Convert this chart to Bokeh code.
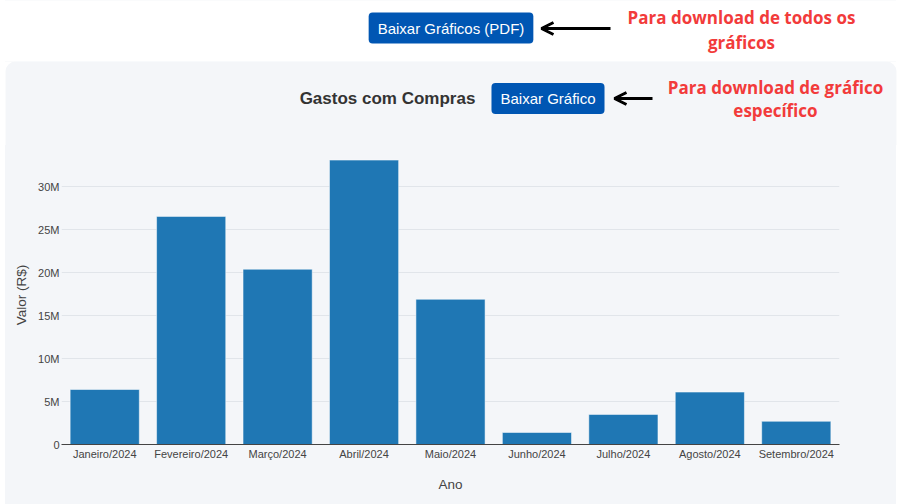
from bokeh.plotting import figure
from bokeh.layouts import column
from bokeh.models import (FactorRange, Range1d, FixedTicker, Label, Arrow,
                          OpenHead, BoxAnnotation, ColumnDataSource)
from bokeh.embed import file_html
from bokeh.resources import INLINE

# ---------------- data ----------------
meses = ["Janeiro/2024", "Fevereiro/2024", "Março/2024", "Abril/2024",
         "Maio/2024", "Junho/2024", "Julho/2024", "Agosto/2024", "Setembro/2024"]
gastos = [6.4e6, 26.55e6, 20.4e6, 33.1e6, 16.9e6, 1.4e6, 3.5e6, 6.1e6, 2.7e6]
y_ticks = [0, 5e6, 10e6, 15e6, 20e6, 25e6, 30e6]
y_tick_labels = ["0", "5M", "10M", "15M", "20M", "25M", "30M"]

titulo = "Gastos com Compras"
eixo_x = "Ano"
eixo_y = "Valor (R$)"
botao_pdf = "Baixar Gráficos (PDF)"
botao_graf = "Baixar Gráfico"
nota_todos = ["Para download de todos os", "gráficos"]
nota_graf = ["Para download de gráfico", "específico"]

# ---------------- styling ----------------
PANEL = "#f4f6f9"
BAR = "#1f77b4"
BTN = "#0056b3"
RED = "#f23b3b"
AXIS_TXT = "#444444"
FONT = "Liberation Sans"
W = 904


def blank(y0, y1, bg):
    f = figure(width=W, height=y1 - y0, x_range=Range1d(0, W),
               y_range=Range1d(y1, y0), output_backend="svg",
               toolbar_location=None, tools="", x_axis_location=None,
               y_axis_location=None, min_border=0, frame_align=False)
    f.border_fill_color = bg
    f.background_fill_color = bg
    f.outline_line_color = None
    f.xgrid.visible = False
    f.ygrid.visible = False
    return f


def button(f, txt, cx, cy):
    f.add_layout(Label(x=cx, y=cy, text=txt, text_align="center",
                       text_baseline="middle", text_font=FONT,
                       text_font_size="15px", text_color="white",
                       background_fill_color=BTN, background_fill_alpha=1.0,
                       padding=(9, 7), border_radius=4))


def arrow(f, x0, x1, y):
    f.add_layout(Arrow(x_start=x0, y_start=y, x_end=x1, y_end=y,
                       line_color="black", line_width=3,
                       end=OpenHead(size=12, line_width=3, line_color="black")))


def note(f, lines, cx, ys):
    for txt, yy in zip(lines, ys):
        f.add_layout(Label(x=cx, y=yy, text=txt, text_align="center",
                           text_baseline="middle", text_font="Open Sans",
                           text_font_style="bold", text_font_size="17px",
                           text_color=RED))


# ---- top strip (white) ----
top = blank(0, 61, "white")
button(top, botao_pdf, 450.5, 27.5)
arrow(top, 610, 541, 28)
note(top, nota_todos, 741, (17, 42))

# ---- card header ----
head = blank(61, 145, "white")
head.add_layout(BoxAnnotation(left=5, right=896, top=61, bottom=260,
                              fill_color=PANEL, fill_alpha=1.0, line_color=None,
                              border_radius=10, level="underlay"))
head.add_layout(Label(x=387, y=98, text=titulo, text_align="center",
                      text_baseline="middle", text_font=FONT,
                      text_font_style="bold", text_font_size="17px",
                      text_color="#333333"))
button(head, botao_graf, 547.5, 98)
arrow(head, 652, 614, 98)
note(head, nota_graf, 775, (87, 110))

# ---- chart ----
src = ColumnDataSource(dict(mes=meses, valor=gastos))

p = figure(width=891, height=359, x_range=FactorRange(*meses, range_padding=0),
           y_range=Range1d(0, 34.8e6), output_backend="svg", toolbar_location=None,
           tools="", min_border_left=56, min_border_right=57, min_border_top=0,
           min_border_bottom=60, margin=(0, 8, 0, 5), frame_align=False)
p.border_fill_color = PANEL
p.background_fill_color = PANEL
p.outline_line_color = None

p.vbar(x="mes", top="valor", width=0.8, source=src, fill_color=BAR,
       line_color="white", line_width=0.5)

p.xaxis.axis_line_color = AXIS_TXT
p.xaxis.major_tick_line_color = None
p.xaxis.major_tick_out = 0
p.xaxis.major_tick_in = 0
p.xaxis.minor_tick_line_color = None
p.xaxis.major_label_standoff = 3
p.xaxis.major_label_text_font = FONT
p.xaxis.major_label_text_font_size = "11px"
p.xaxis.major_label_text_color = AXIS_TXT
p.xaxis.axis_label = eixo_x
p.xaxis.axis_label_text_font = FONT
p.xaxis.axis_label_text_font_style = "normal"
p.xaxis.axis_label_text_font_size = "13.5px"
p.xaxis.axis_label_text_color = AXIS_TXT
p.xaxis.axis_label_standoff = 14

p.yaxis.ticker = FixedTicker(ticks=y_ticks)
p.yaxis.major_label_overrides = {t: l for t, l in zip(y_ticks, y_tick_labels)}
p.yaxis.axis_line_color = None
p.yaxis.major_tick_line_color = None
p.yaxis.major_tick_out = 0
p.yaxis.major_tick_in = 0
p.yaxis.minor_tick_line_color = None
p.yaxis.major_label_standoff = 2
p.yaxis.major_label_text_font = FONT
p.yaxis.major_label_text_font_size = "11px"
p.yaxis.major_label_text_color = AXIS_TXT
p.yaxis.axis_label = eixo_y
p.yaxis.axis_label_text_font = FONT
p.yaxis.axis_label_text_font_style = "normal"
p.yaxis.axis_label_text_font_size = "13.5px"
p.yaxis.axis_label_text_color = AXIS_TXT
p.yaxis.axis_label_standoff = 6

p.xgrid.grid_line_color = None
p.ygrid.grid_line_color = "#e1e5ea"
p.ygrid.grid_line_width = 1

layout = column(top, head, p, spacing=0)
layout.styles = {"background": "linear-gradient(to right, #ffffff 0px, #ffffff 5px, "
                               + PANEL + " 5px, " + PANEL + " 896px, #ffffff 896px)"}
open("out.html", "w").write(file_html(layout, INLINE))
